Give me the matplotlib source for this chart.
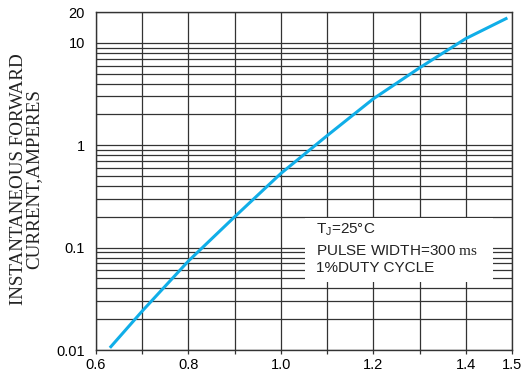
import numpy as np
from matplotlib import pyplot as plt
from matplotlib.patches import Rectangle
from matplotlib.ticker import FixedLocator, LogLocator, NullFormatter

# forward voltage (V) vs instantaneous forward current (A)
vf = [0.63, 0.70, 0.80, 0.90, 1.00, 1.10, 1.20, 1.30, 1.40, 1.49]
i_f = [0.0105, 0.024, 0.074, 0.20, 0.53, 1.24, 2.84, 5.7, 11.0, 17.5]

xticks = [0.6, 0.8, 1.0, 1.2, 1.4, 1.5]
xticklabels = ['0.6', '0.8', '1.0', '1.2', '1.4', '1.5']
yticks = [0.01, 0.1, 1, 10, 20]
yticklabels = ['0.01', '0.1', '1', '10', '20']

plt.rcParams.update({
    'font.family': ['Liberation Sans', 'DejaVu Sans'],
    'mathtext.fontset': 'custom',
    'mathtext.rm': 'Liberation Serif',
    'mathtext.it': 'Liberation Serif:italic',
})

fig = plt.figure(figsize=(5.28, 3.77), dpi=100)
ax = fig.add_axes((96/528, 27/377, 416/528, 338/377))

ax.set_yscale('log')
ax.set_xlim(0.6, 1.5)
ax.set_ylim(0.01, 20)

ax.plot(vf, i_f, color='#10AEE8', lw=2.2, zorder=3, solid_capstyle='butt')

# grid: every 0.1 V and log minors
ax.xaxis.set_major_locator(FixedLocator(xticks))
ax.xaxis.set_minor_locator(FixedLocator([0.7, 0.9, 1.1, 1.3]))
ax.set_xticklabels(xticklabels)
ax.yaxis.set_major_locator(FixedLocator(yticks))
ax.set_yticklabels(yticklabels)
ax.yaxis.set_minor_locator(LogLocator(base=10, subs=np.arange(2, 10)))
ax.yaxis.set_minor_formatter(NullFormatter())

ax.set_axisbelow(True)
ax.grid(True, which='both', color='#333333', lw=0.9)

ax.tick_params(axis='x', which='both', direction='out', length=3, width=0.9,
               color='#333333', labelsize=10.5, pad=3)
ax.tick_params(axis='y', which='both', length=0, labelsize=10.5, pad=8)
for s in ax.spines.values():
    s.set_color('#333333')
    s.set_linewidth(1.0)

# white box behind conditions text
ax.add_patch(Rectangle((0.502, 0.201), 0.452, 0.19, transform=ax.transAxes,
                       facecolor='white', edgecolor='none', zorder=1))
ax.text(0.529, 0.355, 'T$_\\mathregular{J}$=25\u00b0C', transform=ax.transAxes,
        fontsize=11, va='center', ha='left', color='#222222', zorder=4)
ax.text(0.529, 0.293, 'PULSE WIDTH=300 $\\mathrm{ms}$', transform=ax.transAxes,
        fontsize=11, va='center', ha='left', color='#222222', zorder=4)
ax.text(0.529, 0.243, '1%DUTY CYCLE', transform=ax.transAxes,
        fontsize=11, va='center', ha='left', color='#222222', zorder=4)

fig.text(26/528, 1 - 179/377, 'INSTANTANEOUS FORWARD\nCURRENT,AMPERES',
         rotation=90, ha='center', va='center', multialignment='center',
         fontsize=13.7, family='Liberation Serif', linespacing=0.9, color='#222222')

plt.savefig('out.png', dpi=100)
